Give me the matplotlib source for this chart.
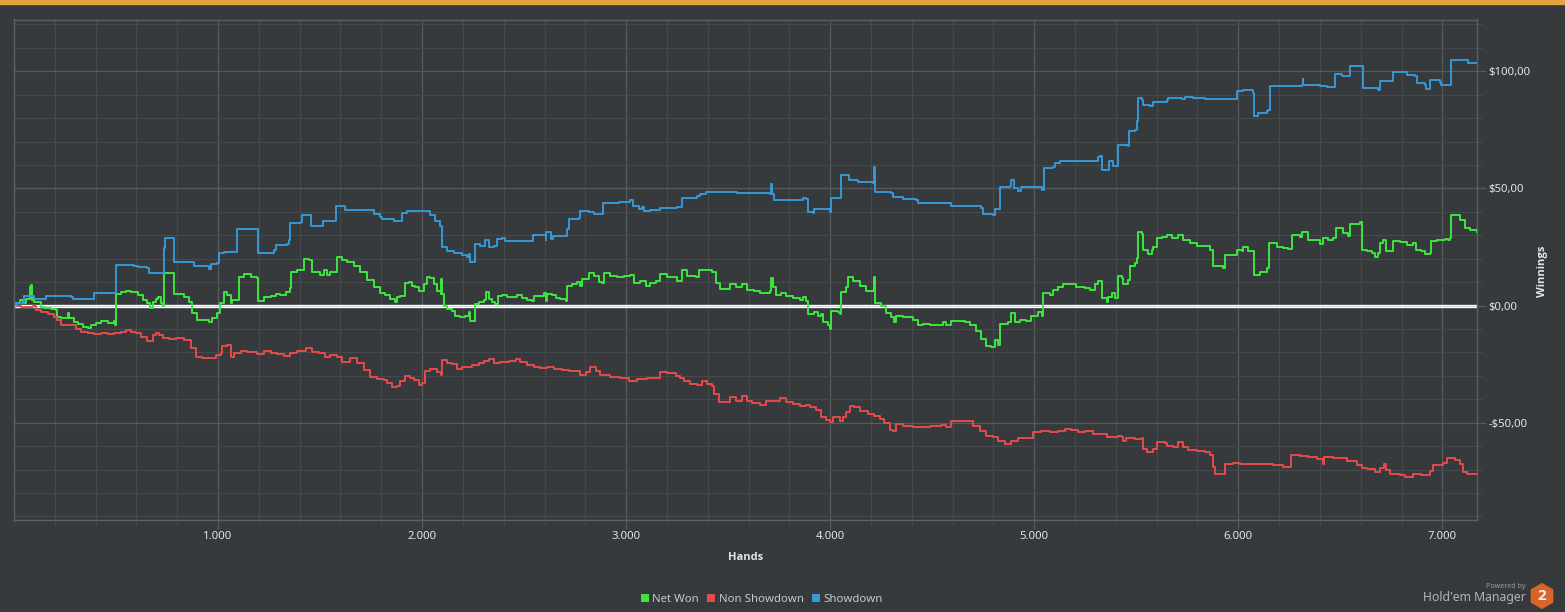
import matplotlib
matplotlib.use("Agg")
import matplotlib.pyplot as plt
from matplotlib.ticker import FixedLocator, MultipleLocator
from matplotlib.lines import Line2D
from matplotlib.patches import Rectangle, RegularPolygon

# ---------------- data ----------------
sd_hands = [0, 11, 51, 87, 100, 133, 157, 280, 288, 390, 394, 491, 500, 589, 606, 654, 663, 728, 733, 739, 782, 785,
            879, 883, 948, 956, 964, 997, 1005, 1029, 1090, 1095, 1192, 1196, 1274, 1282, 1339, 1347, 1355, 1408, 1412,
            1453, 1456, 1510, 1515, 1575, 1580, 1616, 1624, 1747, 1763, 1795, 1804, 1844, 1861, 1869, 1894, 1902, 1926,
            2033, 2041, 2065, 2090, 2098, 2123, 2155, 2196, 2221, 2229, 2234, 2257, 2261, 2286, 2310, 2327, 2351, 2368,
            2392, 2404, 2539, 2544, 2601, 2605, 2608, 2629, 2634, 2642, 2703, 2708, 2719, 2768, 2776, 2817, 2842, 2882,
            2886, 2956, 2964, 3021, 3034, 3062, 3078, 3087, 3119, 3168, 3250, 3275, 3348, 3364, 3389, 3528, 3544, 3659,
            3703, 3711, 3716, 3727, 3858, 3866, 3882, 3891, 3915, 3923, 3980, 3997, 4002, 4046, 4054, 4087, 4092, 4127,
            4136, 4209, 4217, 4221, 4299, 4307, 4356, 4422, 4430, 4593, 4634, 4740, 4748, 4797, 4806, 4822, 4830, 4879,
            4887, 4899, 4920, 4936, 5034, 5039, 5046, 5092, 5100, 5124, 5288, 5312, 5322, 5330, 5363, 5368, 5384, 5388,
            5407, 5412, 5461, 5466, 5494, 5505, 5510, 5526, 5535, 5567, 5584, 5649, 5657, 5722, 5739, 5780, 5837, 5992,
            5995, 6021, 6073, 6077, 6098, 6139, 6147, 6155, 6269, 6310, 6315, 6318, 6400, 6433, 6465, 6474, 6498, 6506,
            6539, 6547, 6604, 6609, 6686, 6694, 6756, 6759, 6792, 6825, 6865, 6874, 6914, 6922, 6939, 6942, 6988, 6996,
            7040, 7045, 7119, 7127, 7168]
sd_vals = [0, 1.0, 4.0, 3.9, 2.7, 2.7, 4.0, 3.8, 2.7, 2.7, 5.3, 5.3, 17.4, 17.0, 16.5, 16.0, 13.8, 14.0, 24.5, 28.8,
           29.0, 18.5, 18.5, 16.7, 17.0, 15.5, 17.8, 18.0, 22.4, 23.0, 23.0, 32.6, 32.6, 22.4, 23.8, 26.0, 26.4, 28.0,
           35.2, 35.5, 38.7, 38.7, 34.0, 34.0, 36.2, 36.0, 42.3, 42.3, 40.9, 40.9, 39.0, 37.7, 36.9, 37.0, 36.3, 35.9,
           35.9, 39.5, 40.2, 40.2, 38.5, 36.3, 33.9, 25.2, 23.5, 22.4, 21.8, 20.7, 22.2, 18.8, 18.8, 26.4, 25.6, 27.8,
           25.2, 25.6, 28.5, 28.8, 27.5, 27.5, 30.2, 30.2, 28.0, 31.3, 31.3, 28.5, 29.6, 29.6, 32.8, 37.0, 37.5, 40.2,
           39.9, 39.3, 39.3, 43.6, 43.6, 44.2, 45.2, 42.3, 41.3, 42.0, 40.2, 40.6, 41.6, 42.0, 46.0, 46.6, 47.7, 48.4,
           48.4, 47.9, 47.9, 47.7, 52.0, 47.7, 44.9, 44.9, 46.0, 45.6, 39.9, 39.5, 41.3, 41.3, 39.9, 46.0, 46.0, 55.6,
           55.6, 53.4, 53.4, 52.7, 52.3, 59.1, 48.4, 48.0, 46.3, 45.6, 45.2, 43.7, 42.7, 42.3, 41.6, 38.9, 38.5, 41.3,
           41.3, 50.6, 50.9, 53.4, 50.2, 49.1, 50.6, 50.6, 49.5, 58.8, 59.1, 60.8, 61.7, 61.7, 63.4, 64.0, 58.0, 58.0,
           61.5, 61.5, 59.7, 59.7, 68.7, 68.0, 74.4, 75.1, 78.6, 88.6, 87.9, 85.8, 85.3, 86.8, 87.6, 88.6, 88.2, 89.0,
           88.6, 88.2, 88.2, 91.5, 92.2, 90.7, 80.8, 82.2, 82.9, 83.6, 93.9, 93.9, 94.3, 96.5, 94.3, 93.9, 93.3, 93.3,
           99.0, 99.0, 97.9, 97.9, 102.4, 102.4, 92.9, 92.2, 95.7, 95.7, 99.7, 99.6, 98.6, 98.0, 95.0, 94.3, 92.5, 92.5,
           96.2, 95.4, 94.3, 94.3, 105.0, 105.0, 103.6, 103.6]

nw_hands = [0, 11, 27, 43, 60, 76, 84, 87, 100, 117, 133, 149, 182, 206, 213, 230, 255, 263, 271, 296, 312, 337, 361,
            377, 402, 426, 459, 491, 495, 501, 524, 548, 573, 606, 630, 654, 667, 679, 695, 708, 720, 728, 736, 782,
            785, 809, 834, 858, 874, 899, 932, 956, 972, 997, 1010, 1029, 1046, 1062, 1070, 1095, 1103, 1127, 1160,
            1189, 1196, 1225, 1258, 1282, 1306, 1331, 1352, 1358, 1388, 1421, 1445, 1461, 1486, 1502, 1518, 1535, 1551,
            1575, 1584, 1608, 1632, 1665, 1698, 1730, 1763, 1795, 1820, 1844, 1869, 1877, 1894, 1918, 1935, 1951, 1967,
            1984, 2000, 2008, 2025, 2041, 2057, 2074, 2093, 2095, 2097, 2106, 2123, 2147, 2163, 2188, 2212, 2229, 2234,
            2257, 2261, 2278, 2302, 2315, 2327, 2343, 2359, 2371, 2392, 2417, 2441, 2466, 2490, 2515, 2539, 2547, 2580,
            2596, 2605, 2613, 2637, 2654, 2678, 2703, 2711, 2735, 2760, 2776, 2784, 2817, 2842, 2866, 2882, 2891, 2923,
            2956, 2989, 3021, 3038, 3070, 3095, 3119, 3144, 3168, 3201, 3250, 3275, 3299, 3340, 3356, 3389, 3422, 3438,
            3462, 3495, 3508, 3536, 3569, 3593, 3626, 3654, 3703, 3711, 3719, 3735, 3760, 3784, 3817, 3850, 3866, 3882,
            3891, 3923, 3940, 3956, 3964, 3989, 3997, 4002, 4038, 4049, 4054, 4078, 4087, 4111, 4144, 4176, 4209, 4217,
            4222, 4250, 4275, 4299, 4315, 4324, 4356, 4405, 4430, 4454, 4487, 4520, 4552, 4569, 4593, 4626, 4659, 4683,
            4716, 4740, 4765, 4789, 4806, 4822, 4830, 4871, 4887, 4904, 4928, 4961, 4985, 5018, 5039, 5042, 5075, 5092,
            5116, 5141, 5173, 5206, 5247, 5271, 5296, 5312, 5322, 5330, 5355, 5363, 5379, 5396, 5407, 5412, 5428, 5437,
            5461, 5469, 5494, 5505, 5510, 5526, 5535, 5559, 5575, 5584, 5600, 5624, 5649, 5673, 5706, 5731, 5763, 5796,
            5837, 5861, 5878, 5902, 5927, 5935, 5967, 5992, 6016, 6024, 6049, 6073, 6078, 6106, 6139, 6152, 6188, 6220,
            6245, 6261, 6286, 6302, 6314, 6343, 6376, 6400, 6416, 6441, 6465, 6478, 6498, 6514, 6539, 6547, 6596, 6604,
            6629, 6653, 6670, 6686, 6694, 6710, 6723, 6751, 6759, 6792, 6825, 6857, 6870, 6898, 6914, 6939, 6947, 6972,
            7012, 7029, 7040, 7045, 7061, 7086, 7110, 7135, 7168]
nw_vals = [0, 1.0, 2.4, 1.0, 2.7, 8.1, 8.8, 2.4, 1.7, 1.7, -0.4, -1.1, -1.6, -1.9, -4.7, -5.4, -5.4, -3.3, -5.4, -6.8,
           -8.0, -9.0, -9.4, -8.5, -7.3, -6.4, -7.3, -6.6, -8.3, 5.0, 5.6, 6.4, 6.0, 4.6, 2.4, 1.0, -1.1, 1.7, 2.7, 3.6,
           1.0, 0.0, 14.1, 14.1, 5.0, 5.0, 3.8, 1.7, -3.3, -6.1, -6.1, -6.8, -5.4, -3.3, 1.0, 6.0, 4.6, 1.0, 2.4, 2.4,
           12.4, 13.5, 12.4, 11.7, 2.0, 3.8, 4.1, 5.0, 4.6, 6.0, 7.4, 14.5, 15.2, 19.8, 19.5, 14.5, 14.5, 13.1, 15.2,
           13.1, 14.5, 14.5, 20.9, 19.5, 18.4, 17.0, 14.5, 11.0, 8.1, 5.3, 4.6, 2.7, 1.4, 3.5, 4.3, 9.5, 10.0, 8.5, 7.8,
           6.1, 6.4, 9.3, 12.4, 11.8, 9.3, 6.1, 5.0, 11.4, 5.0, 0.0, -1.4, -2.4, -4.3, -5.0, -4.3, -2.8, -6.4, -6.7,
           0.7, 1.4, 2.4, 5.7, 2.8, 1.4, 0.7, 4.3, 4.7, 3.6, 3.6, 4.7, 3.3, 2.4, 1.9, 4.3, 4.3, 5.3, 2.1, 5.0, 4.7, 3.3,
           2.8, 1.9, 8.5, 9.0, 10.0, 8.5, 11.4, 13.8, 12.8, 10.0, 9.5, 13.8, 12.8, 12.1, 12.8, 13.2, 9.5, 10.7, 8.5,
           9.5, 10.7, 13.5, 12.1, 10.7, 15.0, 12.8, 12.4, 15.0, 15.2, 14.2, 9.5, 7.1, 7.1, 9.3, 7.8, 9.3, 6.7, 6.1, 5.3,
           6.4, 11.8, 7.8, 4.7, 5.3, 4.3, 3.3, 2.4, 3.6, 2.1, -3.6, -2.8, -4.3, -3.6, -7.1, -8.5, -10.0, -2.1, -2.8,
           -3.6, 5.7, 7.8, 12.1, 10.7, 8.5, 6.4, 6.1, 12.1, 1.0, 0.0, -3.3, -5.0, -7.1, -4.3, -5.0, -6.1, -8.5, -7.8,
           -8.1, -8.5, -7.1, -8.5, -6.4, -6.7, -7.1, -8.5, -10.7, -14.2, -17.1, -17.8, -14.7, -16.7, -7.8, -7.1, -3.3,
           -7.1, -6.1, -6.4, -4.3, -2.8, -4.6, 5.3, 4.7, 6.7, 8.1, 9.3, 9.0, 7.8, 7.5, 6.7, 9.3, 10.4, 10.3, 3.1, 1.7,
           3.8, 5.3, 3.1, 3.1, 12.7, 11.7, 9.3, 11.0, 17.0, 18.1, 20.2, 31.6, 30.6, 23.8, 22.1, 23.8, 25.2, 28.8, 29.2,
           30.2, 28.8, 30.2, 28.1, 26.6, 25.5, 25.5, 23.8, 17.0, 16.7, 16.0, 21.7, 21.7, 23.8, 23.1, 25.2, 23.4, 23.1,
           13.1, 14.5, 16.0, 26.9, 25.2, 24.5, 24.1, 30.2, 30.2, 29.2, 31.2, 28.1, 27.8, 26.4, 28.8, 27.8, 28.8, 33.3,
           33.0, 30.9, 29.8, 34.9, 35.5, 23.8, 23.1, 22.4, 20.9, 22.4, 26.6, 28.1, 23.1, 23.1, 27.4, 27.0, 25.9, 26.6,
           23.8, 23.1, 22.1, 22.4, 27.4, 28.1, 28.4, 28.1, 28.8, 38.7, 38.7, 36.6, 33.0, 32.1, 31.6]

ns_hands = [0, 11, 35, 76, 92, 108, 133, 165, 198, 213, 230, 255, 280, 304, 328, 361, 394, 426, 459, 491, 524, 548, 573,
            597, 622, 654, 679, 695, 711, 728, 760, 793, 834, 866, 891, 923, 964, 989, 1013, 1021, 1046, 1062, 1078,
            1111, 1143, 1192, 1225, 1258, 1290, 1323, 1355, 1388, 1429, 1461, 1494, 1526, 1551, 1584, 1608, 1649, 1681,
            1714, 1747, 1779, 1812, 1828, 1853, 1877, 1894, 1918, 1943, 1959, 1984, 2000, 2016, 2041, 2074, 2095, 2098,
            2123, 2147, 2172, 2196, 2221, 2245, 2278, 2302, 2327, 2351, 2384, 2425, 2458, 2482, 2515, 2547, 2580, 2613,
            2645, 2686, 2719, 2752, 2776, 2801, 2825, 2850, 2874, 2923, 2972, 3013, 3054, 3103, 3144, 3168, 3201, 3242,
            3266, 3283, 3315, 3348, 3373, 3397, 3422, 3430, 3454, 3495, 3508, 3536, 3569, 3593, 3618, 3654, 3686, 3727,
            3752, 3784, 3817, 3850, 3882, 3899, 3931, 3956, 3980, 3997, 4013, 4046, 4062, 4078, 4095, 4119, 4144, 4185,
            4217, 4242, 4266, 4291, 4307, 4324, 4356, 4405, 4454, 4487, 4520, 4544, 4569, 4593, 4634, 4667, 4699, 4732,
            4765, 4797, 4822, 4855, 4887, 4920, 4961, 4993, 5034, 5075, 5116, 5149, 5181, 5214, 5247, 5288, 5320, 5355,
            5388, 5412, 5428, 5437, 5451, 5494, 5526, 5531, 5551, 5584, 5603, 5641, 5649, 5682, 5706, 5731, 5755, 5796,
            5837, 5861, 5874, 5886, 5927, 5935, 5976, 6008, 6041, 6073, 6106, 6139, 6171, 6220, 6250, 6256, 6302, 6343,
            6384, 6413, 6420, 6465, 6531, 6580, 6604, 6629, 6670, 6694, 6714, 6723, 6743, 6792, 6817, 6857, 6898, 6939,
            6955, 7004, 7021, 7061, 7086, 7102, 7119, 7168]
ns_vals = [0, 0.0, -0.7, -0.7, 0.0, -1.9, -2.6, -3.6, -4.7, -6.1, -8.3, -8.5, -8.3, -10.1, -11.1, -11.8, -12.3, -11.8,
           -12.1, -11.5, -11.1, -10.4, -11.1, -11.8, -13.5, -15.1, -12.5, -11.5, -12.5, -14.0, -14.4, -14.0, -14.7,
           -18.2, -21.8, -22.5, -22.5, -21.1, -20.4, -17.2, -16.8, -21.8, -20.4, -19.2, -19.7, -20.7, -19.2, -20.1,
           -20.7, -21.5, -20.1, -19.2, -18.2, -19.7, -20.1, -21.8, -21.1, -22.1, -23.9, -22.5, -24.6, -27.5, -30.3,
           -31.5, -31.8, -33.2, -34.6, -34.2, -32.0, -29.9, -30.9, -31.8, -33.9, -33.2, -27.8, -27.1, -28.5, -29.5,
           -23.2, -24.6, -24.9, -27.1, -26.1, -26.1, -25.2, -24.6, -23.5, -22.8, -24.6, -24.2, -23.8, -22.8, -24.2,
           -25.2, -26.1, -26.6, -26.4, -27.1, -27.5, -28.1, -27.8, -29.6, -28.5, -26.1, -27.8, -29.6, -30.6, -30.9,
           -32.0, -31.3, -30.9, -30.9, -28.2, -28.9, -29.9, -30.9, -32.3, -33.5, -33.8, -32.3, -33.5, -34.2, -37.7,
           -41.3, -41.3, -39.2, -40.6, -38.5, -40.6, -41.7, -42.3, -40.6, -40.6, -39.5, -41.0, -42.0, -42.7, -42.3,
           -43.4, -44.6, -47.7, -48.9, -49.9, -47.7, -49.1, -47.7, -45.6, -42.7, -43.4, -45.2, -46.4, -47.0, -48.4,
           -50.3, -53.1, -53.7, -50.6, -51.3, -52.0, -51.7, -51.3, -51.6, -50.9, -51.7, -49.1, -49.4, -49.1, -51.3,
           -53.4, -55.6, -56.0, -57.7, -59.1, -57.7, -56.6, -56.6, -54.1, -53.4, -54.1, -53.4, -52.7, -53.1, -54.1,
           -53.7, -54.8, -54.8, -56.3, -56.0, -55.7, -56.3, -57.7, -56.6, -57.0, -56.6, -61.0, -62.4, -61.0, -58.1,
           -58.5, -60.0, -60.3, -58.1, -60.3, -61.7, -62.1, -62.7, -63.8, -68.8, -71.7, -72.0, -67.4, -67.1, -67.4,
           -67.7, -67.4, -67.4, -67.7, -68.1, -68.8, -69.1, -63.8, -64.2, -64.6, -65.4, -67.7, -64.8, -65.2, -66.5,
           -67.9, -69.5, -69.9, -70.9, -69.5, -67.4, -70.2, -72.0, -72.4, -73.1, -71.7, -72.1, -70.5, -68.1, -67.0,
           -65.2, -65.9, -67.7, -70.9, -72.0, -72.0]

series_names = ["Net Won", "Non Showdown", "Showdown"]
x_ticks = [1000, 2000, 3000, 4000, 5000, 6000, 7000]
x_tick_labels = ["1.000", "2.000", "3.000", "4.000", "5.000", "6.000", "7.000"]
y_ticks = [-50, 0, 50, 100]
y_tick_labels = ["-$50,00", "$0,00", "$50,00", "$100,00"]

# ---------------- style ----------------
W, H = 1565, 612
BG = "#363a3d"
GRID_MAJ = "#575b5f"
GRID_MIN = "#45494c"
SPINE = "#5c6064"
TXT = "#e4e4e4"
C_NW = "#3ce63c"
C_NS = "#e54b4b"
C_SD = "#3598d8"
BOLD_FAM = ['Open Sans', 'Lato', 'DejaVu Sans']

plt.rcParams['font.family'] = ['Noto Sans', 'DejaVu Sans']

fig = plt.figure(figsize=(W / 100, H / 100), dpi=100, facecolor=BG)
L, R, T, B = 14, 1477, 19.5, 519.5
ax = fig.add_axes([L / W, 1 - B / H, (R - L) / W, (B - T) / H], facecolor=BG)

ax.set_xlim(0, 7170)
ax.set_ylim(-91.3, 122.1)

ax.xaxis.set_major_locator(FixedLocator(x_ticks))
ax.xaxis.set_minor_locator(MultipleLocator(200))
ax.yaxis.set_major_locator(FixedLocator(y_ticks))
ax.yaxis.set_minor_locator(MultipleLocator(10))
ax.set_xticklabels(x_tick_labels)
ax.set_yticklabels(y_tick_labels)
ax.yaxis.tick_right()

ax.grid(which='minor', color=GRID_MIN, lw=0.9, zorder=0)
ax.grid(which='major', color=GRID_MAJ, lw=0.9, zorder=0)
ax.set_axisbelow(True)
ax.tick_params(which='major', length=6.5, width=0.9, color=GRID_MAJ, labelcolor=TXT, labelsize=8.2, pad=1.5)
ax.tick_params(which='minor', length=3.3, width=0.9, color=GRID_MIN)
ax.tick_params(axis='x', which='both', bottom=True, top=False)
ax.tick_params(axis='y', which='both', right=True, left=False)
for s in ax.spines.values():
    s.set_color(SPINE)
    s.set_linewidth(1.0)

ax.axhline(0, color="white", lw=2.4, zorder=2)
ax.axhline(0, color="#b8bcc0", lw=0.5, zorder=2.1)
ax.plot(nw_hands, nw_vals, color=C_NW, lw=1.4, zorder=3, drawstyle='steps-post')
ax.plot(ns_hands, ns_vals, color=C_NS, lw=1.4, zorder=3, drawstyle='steps-post')
ax.plot(sd_hands, sd_vals, color=C_SD, lw=1.4, zorder=3, drawstyle='steps-post')

# axis titles
fig.text((L + R) / 2 / W, 1 - 557 / H, "Hands", ha='center', va='center', color=TXT,
         fontsize=8.0, fontweight='bold', family=BOLD_FAM)
fig.text(1543 / W, 1 - 271 / H, "Winnings", ha='center', va='center', rotation=90, color=TXT,
         fontsize=8.0, fontweight='bold', family=BOLD_FAM)

# legend
handles = [Line2D([], [], ls='none', marker='s', markersize=5.5, color=c, markeredgewidth=0)
           for c in (C_NW, C_NS, C_SD)]
leg = fig.legend(handles, series_names, loc='center', bbox_to_anchor=(762 / W, 1 - 599 / H), ncol=3,
                 frameon=False, fontsize=8.2, handlelength=0.6, handletextpad=0.35, columnspacing=0.8,
                 borderpad=0, borderaxespad=0)
for t in leg.get_texts():
    t.set_color("#c8c8c8")

# top orange bar
fig.patches.append(Rectangle((0, 1 - 4 / H), 1, 4 / H, transform=fig.transFigure, color="#e6a23f", zorder=5))

# logo
fig.text(1525 / W, 1 - 586 / H, "Powered by", ha='right', va='center', color="#9a9a9a", fontsize=5.2)
fig.text(1526 / W, 1 - 598 / H, "Hold'em Manager", ha='right', va='center', color="#b4b4b4", fontsize=8.8)
axl = fig.add_axes([1529 / W, 1 - 610 / H, 26 / W, 28 / H])
axl.set_xlim(0, 26)
axl.set_ylim(0, 28)
axl.axis('off')
axl.add_patch(RegularPolygon((13, 14), numVertices=6, radius=12.3, orientation=0, color="#d9642a"))
axl.text(13, 13.5, "2", ha='center', va='center', color="#f2f2f2", fontsize=11, fontweight='bold',
         family=BOLD_FAM)

fig.savefig("out.png", dpi=100, facecolor=BG)
